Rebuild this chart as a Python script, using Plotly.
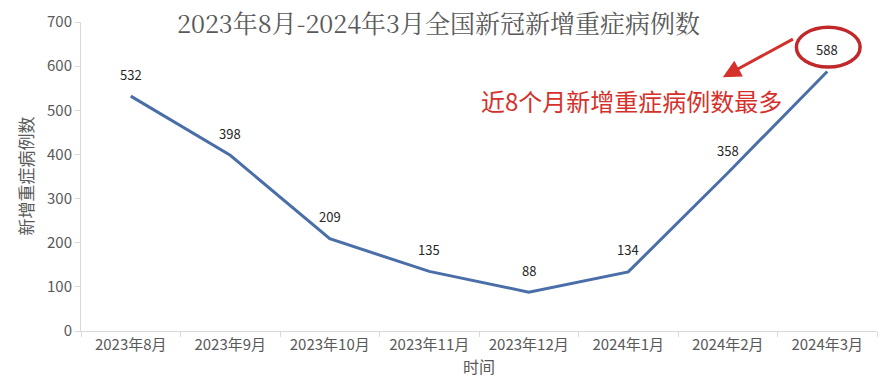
import plotly.graph_objects as go

months = ["2023年8月", "2023年9月", "2023年10月", "2023年11月",
          "2023年12月", "2024年1月", "2024年2月", "2024年3月"]
cases = [532, 398, 209, 135, 88, 134, 358, 588]
y_ticks = [0, 100, 200, 300, 400, 500, 600, 700]

title_text = "2023年8月-2024年3月全国新冠新增重症病例数"
y_title = "新增重症病例数"
x_title = "时间"
note_text = "近8个月新增重症病例数最多"

CJK = "Noto Sans CJK SC"
GRAY = "#595959"
RED = "#d5312b"

fig = go.Figure()
fig.add_trace(go.Scatter(
    x=months, y=cases, mode="lines",
    line=dict(color="#4a6ea8", width=3),
    hoverinfo="x+y",
))

annotations = []
for m, v in zip(months, cases):
    annotations.append(dict(
        x=m, y=v, xref="x", yref="y", text=str(v), showarrow=False,
        yshift=22, font=dict(family=CJK, size=13, color="#262626"),
    ))

# Red note text
annotations.append(dict(
    x=5.03, y=523, xref="x", yref="y", text=note_text, showarrow=False,
    font=dict(family=CJK, size=24, color=RED),
))
# Arrow
annotations.append(dict(
    x=5.95, y=575, xref="x", yref="y",
    ax=6.67, ay=663, axref="x", ayref="y",
    text="", showarrow=True, arrowhead=2, arrowsize=1.2, arrowwidth=3,
    arrowcolor=RED,
))
# Axis titles as annotations
annotations.append(dict(
    x=0.5, y=0, xref="paper", yref="paper", yanchor="bottom", yshift=-49,
    text=x_title, showarrow=False,
    font=dict(family=CJK, size=16, color=GRAY),
))
annotations.append(dict(
    x=0, y=0.5, xref="paper", yref="paper", xanchor="center", xshift=-56,
    text=y_title, showarrow=False, textangle=-90,
    font=dict(family=CJK, size=17, color=GRAY),
))

fig.add_shape(type="circle", xref="x", yref="y",
              x0=6.69, x1=7.33, y0=598, y1=688,
              line=dict(color="#c0282a", width=3.5))

fig.update_layout(
    width=895, height=380,
    margin=dict(l=81, r=18, t=22, b=49),
    paper_bgcolor="white", plot_bgcolor="white",
    showlegend=False,
    annotations=annotations,
    title=dict(text=title_text, x=0.49, xanchor="center", y=0.935, yanchor="middle",
               font=dict(family="Noto Serif CJK SC, " + CJK, size=25, color=GRAY)),
    xaxis=dict(
        type="category", range=[-0.5, 7.5], automargin=False,
        showline=True, linecolor="#d9d9d9", linewidth=1,
        ticks="outside", tickson="boundaries", ticklen=5, tickcolor="#d9d9d9",
        showgrid=False, zeroline=False,
        tickfont=dict(family=CJK, size=15, color=GRAY),
    ),
    yaxis=dict(
        range=[0, 700], tickvals=y_ticks, automargin=False,
        showline=True, linecolor="#d9d9d9", linewidth=1,
        ticks="outside", ticklen=5, tickcolor="#d9d9d9",
        showgrid=False, zeroline=False,
        tickfont=dict(family=CJK, size=15, color=GRAY),
    ),
)

fig.write_html("out.html", config={"displayModeBar": False},
               post_script="document.body.style.margin='0';document.body.style.overflow='hidden';")
